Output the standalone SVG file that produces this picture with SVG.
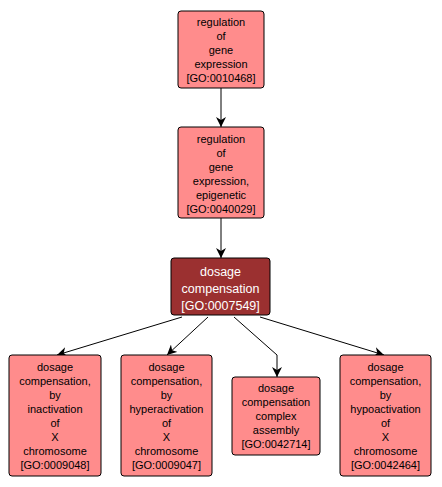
<svg xmlns="http://www.w3.org/2000/svg" width="442" height="487" viewBox="0 0 442 487">
<defs>
<style>
.n{fill:#ff8c8c;stroke:#000;stroke-width:1}
.d{fill:#9b3030;stroke:#000;stroke-width:1}
.t{font-family:"Liberation Sans",Arial,sans-serif;font-size:11px;fill:#000;text-anchor:middle}
.w{font-family:"Liberation Sans",Arial,sans-serif;font-size:12.5px;fill:#fff;text-anchor:middle}
.e{fill:none;stroke:#000;stroke-width:1}
</style>
<marker id="a" markerWidth="12" markerHeight="10" refX="10" refY="5" orient="auto" markerUnits="userSpaceOnUse">
<path d="M0,0 L10,5 L0,10 L3,5 Z" fill="#000"/>
</marker>
</defs>
<rect width="442" height="487" fill="#fff"/>
<g id="edges">
<path class="e" d="M221,88 L221,127" marker-end="url(#a)"/>
<path class="e" d="M221,218 L221,258" marker-end="url(#a)"/>
<path class="e" d="M182,317 L57,355" marker-end="url(#a)"/>
<path class="e" d="M208,317 L167,355" marker-end="url(#a)"/>
<path class="e" d="M234,317 L277,355 L277,377" marker-end="url(#a)"/>
<path class="e" d="M260,317 L384,355" marker-end="url(#a)"/>
</g>
<g id="n0010468">
<rect class="n" x="178" y="11" width="86" height="77" rx="3"/>
<text class="t" x="221" y="26">regulation</text>
<text class="t" x="221" y="40">of</text>
<text class="t" x="221" y="54">gene</text>
<text class="t" x="221" y="68">expression</text>
<text class="t" x="221" y="82">[GO:0010468]</text>
</g>
<g id="n0040029">
<rect class="n" x="178" y="127" width="86" height="91" rx="3"/>
<text class="t" x="221" y="143">regulation</text>
<text class="t" x="221" y="157">of</text>
<text class="t" x="221" y="171">gene</text>
<text class="t" x="221" y="185">expression,</text>
<text class="t" x="221" y="199">epigenetic</text>
<text class="t" x="221" y="213">[GO:0040029]</text>
</g>
<g id="n0007549">
<rect class="d" x="171" y="258" width="99" height="57" rx="3"/>
<text class="w" x="220.5" y="276">dosage</text>
<text class="w" x="220.5" y="293">compensation</text>
<text class="w" x="220.5" y="310">[GO:0007549]</text>
</g>
<g id="n0009048">
<rect class="n" x="9" y="355" width="92" height="121" rx="3"/>
<text class="t" x="55" y="371">dosage</text>
<text class="t" x="55" y="385">compensation,</text>
<text class="t" x="55" y="399">by</text>
<text class="t" x="55" y="413">inactivation</text>
<text class="t" x="55" y="427">of</text>
<text class="t" x="55" y="441">X</text>
<text class="t" x="55" y="455">chromosome</text>
<text class="t" x="55" y="469">[GO:0009048]</text>
</g>
<g id="n0009047">
<rect class="n" x="121" y="355" width="91" height="121" rx="3"/>
<text class="t" x="166.5" y="371">dosage</text>
<text class="t" x="166.5" y="385">compensation,</text>
<text class="t" x="166.5" y="399">by</text>
<text class="t" x="166.5" y="413">hyperactivation</text>
<text class="t" x="166.5" y="427">of</text>
<text class="t" x="166.5" y="441">X</text>
<text class="t" x="166.5" y="455">chromosome</text>
<text class="t" x="166.5" y="469">[GO:0009047]</text>
</g>
<g id="n0042714">
<rect class="n" x="232" y="377" width="88" height="78" rx="3"/>
<text class="t" x="276" y="392">dosage</text>
<text class="t" x="276" y="406">compensation</text>
<text class="t" x="276" y="420">complex</text>
<text class="t" x="276" y="434">assembly</text>
<text class="t" x="276" y="448">[GO:0042714]</text>
</g>
<g id="n0042464">
<rect class="n" x="340" y="355" width="91" height="121" rx="3"/>
<text class="t" x="385.5" y="371">dosage</text>
<text class="t" x="385.5" y="385">compensation,</text>
<text class="t" x="385.5" y="399">by</text>
<text class="t" x="385.5" y="413">hypoactivation</text>
<text class="t" x="385.5" y="427">of</text>
<text class="t" x="385.5" y="441">X</text>
<text class="t" x="385.5" y="455">chromosome</text>
<text class="t" x="385.5" y="469">[GO:0042464]</text>
</g>
</svg>
